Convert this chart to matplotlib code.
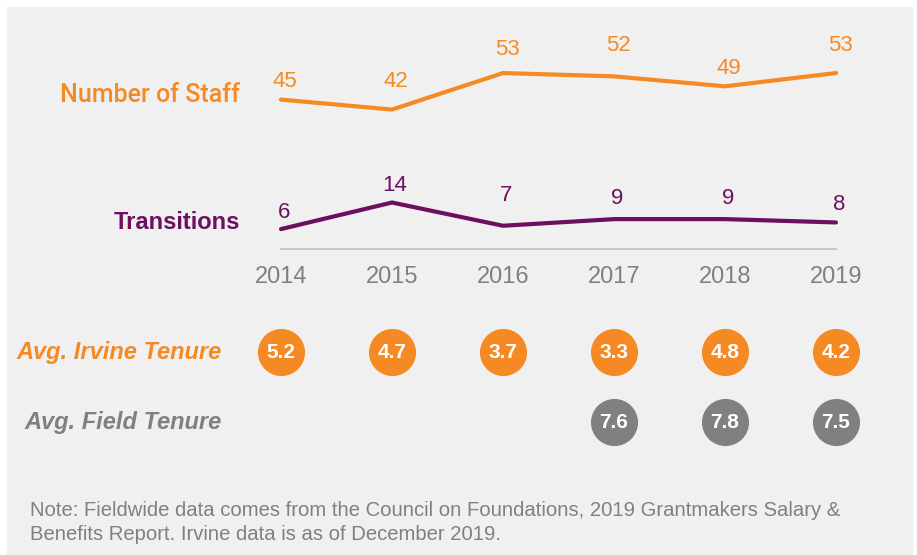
import matplotlib.pyplot as plt
from matplotlib.patches import Rectangle

years = ['2014', '2015', '2016', '2017', '2018', '2019']
staff = [45, 42, 53, 52, 49, 53]
transitions = [6, 14, 7, 9, 9, 8]
irvine_tenure = [5.2, 4.7, 3.7, 3.3, 4.8, 4.2]
field_years = ['2017', '2018', '2019']
field_tenure = [7.6, 7.8, 7.5]

# label offsets above each point, in points
staff_dy = [13, 20, 17, 22, 13, 20]
trans_dy = [12, 12, 22, 15, 15, 13]

ORANGE = '#F58A25'
PURPLE = '#6D0F5F'
GRAY = '#808080'
BG = '#F0F0F0'

plt.rcParams['font.family'] = ['Liberation Sans', 'DejaVu Sans']

W, H = 917, 555
fig = plt.figure(figsize=(W / 100, H / 100), dpi=100)
fig.patches.append(Rectangle((7 / W, 0), (912 - 7) / W, (H - 7) / H,
                             transform=fig.transFigure, color=BG, zorder=-1))

# one axes over the whole figure; x = year index, y = count
X0, DX = 281, 111      # pixel x of first year, spacing
Y0, SC = 249, 3.32     # pixel y of zero, pixels per unit
ax = fig.add_axes([0, 0, 1, 1])
ax.set_xlim(-X0 / DX, (W - X0) / DX)
ax.set_ylim(-(H - Y0) / SC, Y0 / SC)
ax.axis('off')
ax.patch.set_visible(False)


def row(py):
    return (Y0 - py) / SC


def col(px):
    return (px - X0) / DX


idx = list(range(len(years)))
ax.plot(idx, staff, color=ORANGE, lw=3, solid_capstyle='round')
ax.plot(idx, transitions, color=PURPLE, lw=3, solid_capstyle='round')
ax.plot([idx[0], idx[-1]], [0, 0], color='#C8C8C8', lw=1.5)

for i, v in enumerate(staff):
    ax.annotate(str(v), (i, v), xytext=(3, staff_dy[i]), textcoords='offset points',
                ha='center', va='center', color=ORANGE, fontsize=16)
for i, v in enumerate(transitions):
    ax.annotate(str(v), (i, v), xytext=(2, trans_dy[i]), textcoords='offset points',
                ha='center', va='center', color=PURPLE, fontsize=16)

for i, y in enumerate(years):
    ax.text(i, row(277), y, ha='center', va='center', color=GRAY, fontsize=17)

ax.text(col(240), row(95), 'Number of Staff', ha='right', va='center',
        color=ORANGE, fontsize=18, family=['Roboto', 'DejaVu Sans'], fontweight='medium')
ax.text(col(240), row(222), 'Transitions', ha='right', va='center',
        color=PURPLE, fontsize=17, fontweight='bold')

# tenure rows
ax.scatter(idx, [row(352)] * len(idx), s=1150, color=ORANGE, lw=0)
for i, v in enumerate(irvine_tenure):
    ax.text(i, row(352), f'{v:.1f}', ha='center', va='center', color='white',
            fontsize=15, fontweight='bold')
fidx = [years.index(y) for y in field_years]
ax.scatter(fidx, [row(422)] * len(fidx), s=1150, color=GRAY, lw=0)
for i, v in zip(fidx, field_tenure):
    ax.text(i, row(422), f'{v:.1f}', ha='center', va='center', color='white',
            fontsize=15, fontweight='bold')

ax.text(col(222), row(352), 'Avg. Irvine Tenure', ha='right', va='center',
        color=ORANGE, fontsize=17, fontweight='bold', fontstyle='italic')
ax.text(col(222), row(422), 'Avg. Field Tenure', ha='right', va='center',
        color=GRAY, fontsize=17, fontweight='bold', fontstyle='italic')

fig.text(30 / W, 1 - 510 / H,
         'Note: Fieldwide data comes from the Council on Foundations, 2019 Grantmakers Salary &',
         ha='left', va='center', color=GRAY, fontsize=14.6)
fig.text(30 / W, 1 - 535 / H, 'Benefits Report. Irvine data is as of December 2019.',
         ha='left', va='center', color=GRAY, fontsize=14.6)

fig.savefig('out.png', dpi=100)
